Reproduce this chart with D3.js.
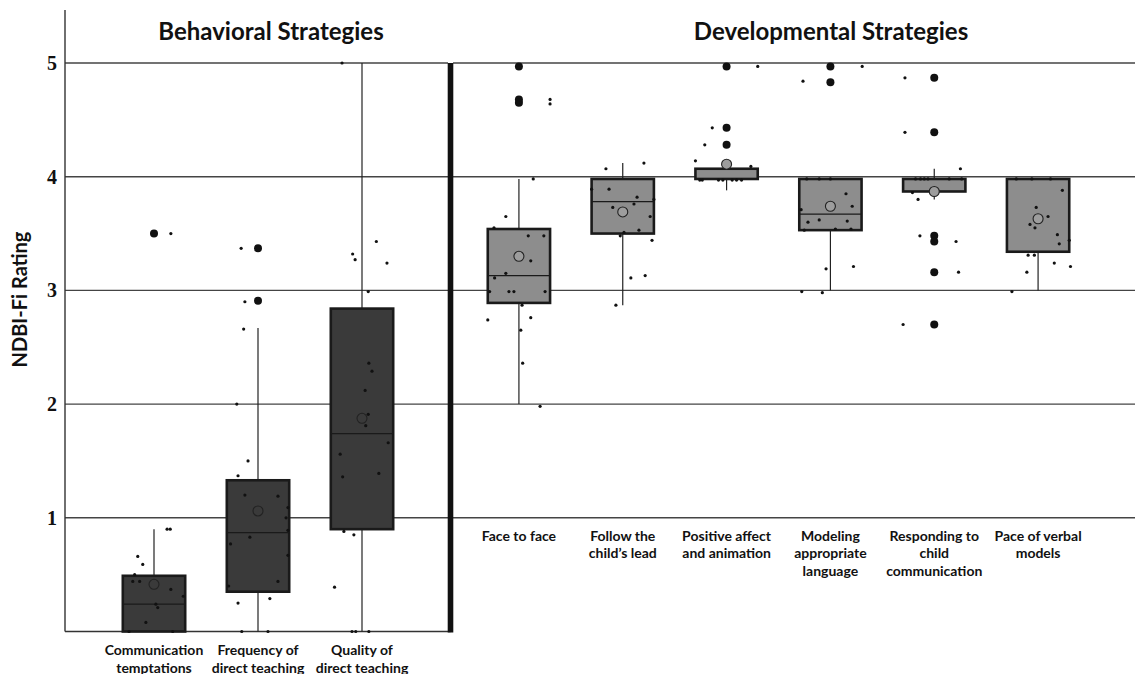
<!DOCTYPE html>
<html>
<head>
<meta charset="utf-8">
<script src="https://cdn.jsdelivr.net/npm/d3@7"></script>
<style>
  body { margin: 0; background: #fff; }
  svg { display: block; }
  .label { font-family: Lato, "Open Sans", sans-serif; font-weight: 700; fill: #111; }
  .tick { font-family: "Liberation Serif", "DejaVu Serif", serif; font-weight: 700; fill: #111; }
</style>
</head>
<body>
<svg id="chart" width="1135" height="674"></svg>
<script>
// ---- Data -------------------------------------------------------------
const categories = [
  "Communication temptations", "Frequency of direct teaching", "Quality of direct teaching",
  "Face to face", "Follow the child's lead", "Positive affect and animation",
  "Modeling appropriate language", "Responding to child communication", "Pace of verbal models"
];
const categoryLines = [
  ["Communication", "temptations"], ["Frequency of", "direct teaching"], ["Quality of", "direct teaching"],
  ["Face to face"], ["Follow the", "child\u2019s lead"], ["Positive affect", "and animation"],
  ["Modeling", "appropriate", "language"], ["Responding to", "child", "communication"], ["Pace of verbal", "models"]
];
const strategyGroup = ["Behavioral", "Behavioral", "Behavioral",
  "Developmental", "Developmental", "Developmental", "Developmental", "Developmental", "Developmental"];
const groupTitles = ["Behavioral Strategies", "Developmental Strategies"];
const yTicks = [1, 2, 3, 4, 5];
const yLabel = "NDBI-Fi Rating";

// Box summaries
const q1          = [0.00, 0.35, 0.90, 2.89, 3.50, 3.98, 3.53, 3.87, 3.34];
const median      = [0.24, 0.87, 1.74, 3.13, 3.78, 3.98, 3.67, 3.98, 3.98];
const q3          = [0.49, 1.33, 2.84, 3.54, 3.98, 4.07, 3.98, 3.98, 3.98];
const whiskerLow  = [0.00, 0.00, 0.00, 2.00, 2.87, 3.88, 3.00, 3.80, 3.00];
const whiskerHigh = [0.90, 2.67, 5.00, 3.98, 4.12, 4.12, 3.98, 4.07, 3.98];
const means       = [0.415, 1.06, 1.875, 3.30, 3.69, 4.11, 3.74, 3.87, 3.63];

// Outlying ratings (large markers)
const outliers = [
  [3.5], [3.37, 2.91], [], [4.97, 4.68, 4.65], [], [4.97, 4.43, 4.28],
  [4.97, 4.83], [4.87, 4.39, 3.48, 3.43, 3.16, 2.70], []
];

// Individual ratings and their horizontal jitter (fraction of box width)
const pointValues = [
  [3.5, 0.9, 0.9, 0.66, 0.59, 0.5, 0.44, 0.44, 0.37, 0.31, 0.24, 0.21, 0.08, 0, 0],
  [3.37, 2.9, 2.66, 2.0, 1.5, 1.37, 1.2, 1.19, 1.09, 1.0, 0.89, 0.83, 0.77, 0.67, 0.44, 0.4, 0.29, 0.25, 0, 0],
  [5.0, 3.43, 3.32, 3.27, 3.24, 2.99, 2.36, 2.29, 2.12, 1.91, 1.81, 1.66, 1.56, 1.39, 1.36, 0.88, 0.85, 0.39, 0, 0, 0],
  [4.68, 4.64, 3.98, 3.65, 3.55, 3.48, 3.48, 3.26, 3.15, 3.11, 2.99, 2.99, 2.99, 2.99, 2.87, 2.74, 2.76, 2.65, 2.36, 1.98],
  [4.12, 4.07, 3.89, 3.89, 3.82, 3.8, 3.76, 3.73, 3.65, 3.53, 3.51, 3.48, 3.44, 3.13, 3.11, 2.87],
  [4.97, 4.43, 4.28, 4.14, 4.09, 3.97, 3.97, 3.97, 3.97, 3.97, 3.97, 3.97],
  [4.97, 4.84, 3.98, 3.98, 3.98, 3.85, 3.74, 3.71, 3.62, 3.61, 3.6, 3.54, 3.54, 3.53, 3.21, 3.19, 2.99, 2.98],
  [4.87, 4.39, 4.07, 3.98, 3.98, 3.98, 3.98, 3.98, 3.98, 3.86, 3.8, 3.48, 3.43, 3.16, 2.7],
  [3.98, 3.98, 3.98, 3.88, 3.73, 3.65, 3.58, 3.55, 3.49, 3.44, 3.41, 3.31, 3.31, 3.24, 3.21, 3.16, 2.99]
];
const pointJitter = [
  [0.27, 0.21, 0.26, -0.26, -0.18, -0.31, -0.34, -0.23, 0.27, 0.47, 0.03, 0.06, -0.13, -0.4, 0.3],
  [-0.27, -0.21, -0.23, -0.34, -0.16, -0.32, -0.21, 0.32, 0.48, 0.45, 0.48, -0.13, -0.44, 0.48, 0.32, -0.47, 0.19, -0.32, -0.26, 0.16],
  [-0.32, 0.23, -0.15, -0.11, 0.4, 0.1, 0.11, 0.16, 0.05, 0.1, 0.06, 0.42, -0.35, 0.27, -0.31, -0.29, -0.13, -0.44, -0.16, -0.1, 0.11],
  [0.5, 0.5, 0.23, -0.21, -0.4, 0.15, 0.4, 0.19, -0.21, -0.39, -0.47, -0.16, -0.08, 0.42, 0.05, -0.5, 0.19, 0.03, 0.06, 0.34],
  [0.34, -0.27, -0.5, -0.22, 0.23, 0.5, 0.18, -0.16, 0.44, 0.26, 0.02, -0.04, 0.47, 0.36, 0.13, -0.11],
  [0.5, -0.23, -0.35, -0.5, 0.39, -0.43, -0.39, -0.13, -0.06, 0.09, 0.16, 0.24],
  [0.51, -0.44, -0.38, -0.18, 0.0, 0.25, 0.35, -0.47, -0.18, 0.27, -0.36, 0.33, 0.08, -0.42, 0.37, -0.07, -0.46, -0.13],
  [-0.47, -0.47, 0.42, -0.3, -0.22, -0.16, -0.1, 0.24, 0.44, -0.35, -0.26, -0.23, 0.35, 0.39, -0.5],
  [-0.35, -0.1, 0.2, 0.39, -0.03, 0.16, -0.13, -0.05, 0.31, 0.5, 0.34, -0.16, -0.06, 0.26, 0.52, -0.18, -0.42]
];

// ---- Layout -----------------------------------------------------------
const svg = d3.select("#chart");
const axisX = 65, dividerX = 450.5, rightEdge = 1135;

const y = d3.scaleLinear().domain([0, 5]).range([631.5, 63]);

const behavioral = categories.filter((c, i) => strategyGroup[i] === "Behavioral");
const developmental = categories.filter((c, i) => strategyGroup[i] === "Developmental");

const xBeh = d3.scaleBand().domain(behavioral).range([102, 414]).paddingInner(0.4).paddingOuter(0.2);
const xDev = d3.scaleBand().domain(developmental).range([467, 1090]).paddingInner(0.4).paddingOuter(0.2);
const xFor = i => strategyGroup[i] === "Behavioral" ? xBeh : xDev;

const boxFill = { Behavioral: "#3a3a3a", Developmental: "#8d8d8d" };
const meanFill = { Behavioral: "#3a3a3a", Developmental: "#9d9d9d" };

// Gridlines
const grid = svg.append("g");
grid.selectAll("line.gl").data(yTicks).join("line")
  .attr("x1", axisX).attr("x2", dividerX - 2.5)
  .attr("y1", d => y(d)).attr("y2", d => y(d))
  .attr("stroke", "#444").attr("stroke-width", 1.4);
grid.selectAll("line.gr").data(yTicks).join("line")
  .attr("x1", dividerX + 2.5).attr("x2", rightEdge)
  .attr("y1", d => y(d)).attr("y2", d => y(d))
  .attr("stroke", "#444").attr("stroke-width", 1.4);

// Left axis and baseline
svg.append("line").attr("x1", axisX).attr("x2", axisX).attr("y1", 10).attr("y2", y(0))
  .attr("stroke", "#333").attr("stroke-width", 1.4);
svg.append("line").attr("x1", axisX).attr("x2", dividerX).attr("y1", y(0)).attr("y2", y(0))
  .attr("stroke", "#333").attr("stroke-width", 1.4);

// Divider between the two strategy groups
svg.append("rect").attr("x", dividerX - 2.8).attr("width", 5.6)
  .attr("y", y(5)).attr("height", y(0) - y(5) + 1).attr("fill", "#111");

// Y tick labels
svg.selectAll("text.tick").data(yTicks).join("text").attr("class", "tick")
  .attr("x", 57).attr("y", d => y(d)).attr("dy", "0.34em")
  .attr("text-anchor", "end").attr("font-size", 20).text(d => d);

// Y axis title
svg.append("text").attr("class", "label")
  .attr("transform", `translate(27,${y(2.92)}) rotate(-90)`)
  .attr("text-anchor", "middle").attr("font-size", 20).text(yLabel);

// Group titles
svg.append("text").attr("class", "label").attr("x", 271).attr("y", 40)
  .attr("text-anchor", "middle").attr("font-size", 24).text(groupTitles[0]);
svg.append("text").attr("class", "label").attr("x", 831).attr("y", 40)
  .attr("text-anchor", "middle").attr("font-size", 24).text(groupTitles[1]);

// Boxes
categories.forEach((cat, i) => {
  const xs = xFor(i);
  const x0 = xs(cat), bw = xs.bandwidth(), cx = x0 + bw / 2;
  const grp = strategyGroup[i];
  const g = svg.append("g");

  // whiskers
  g.append("line").attr("x1", cx).attr("x2", cx)
    .attr("y1", y(whiskerHigh[i])).attr("y2", y(q3[i]))
    .attr("stroke", "#222").attr("stroke-width", 1.2);
  g.append("line").attr("x1", cx).attr("x2", cx)
    .attr("y1", y(q1[i])).attr("y2", y(whiskerLow[i]))
    .attr("stroke", "#222").attr("stroke-width", 1.2);

  // box
  g.append("rect").attr("x", x0).attr("width", bw)
    .attr("y", y(q3[i])).attr("height", Math.max(1, y(q1[i]) - y(q3[i])))
    .attr("fill", boxFill[grp]).attr("stroke", "#1a1a1a").attr("stroke-width", 2.6);

  // median
  g.append("line").attr("x1", x0).attr("x2", x0 + bw)
    .attr("y1", y(median[i])).attr("y2", y(median[i]))
    .attr("stroke", "#1a1a1a").attr("stroke-width", 1.3);

  // mean
  g.append("circle").attr("cx", cx).attr("cy", y(means[i])).attr("r", 5)
    .attr("fill", meanFill[grp]).attr("stroke", "#222").attr("stroke-width", 1.1);

  // individual ratings
  g.selectAll("circle.pt").data(pointValues[i].map((v, k) => [v, pointJitter[i][k]])).join("circle")
    .attr("cx", d => cx + d[1] * bw).attr("cy", d => y(d[0])).attr("r", 1.6).attr("fill", "#111");

  // outliers
  g.selectAll("circle.out").data(outliers[i]).join("circle")
    .attr("cx", cx).attr("cy", d => y(d)).attr("r", 4).attr("fill", "#111");

  // category label
  const isBeh = grp === "Behavioral";
  const baseY = isBeh ? 655 : y(1) + 23;
  const t = svg.append("text").attr("class", "label")
    .attr("text-anchor", "middle").attr("font-size", 14);
  categoryLines[i].forEach((line, k) => {
    t.append("tspan").attr("x", cx).attr("y", baseY + k * 17.5).text(line);
  });
});
</script>
</body>
</html>
